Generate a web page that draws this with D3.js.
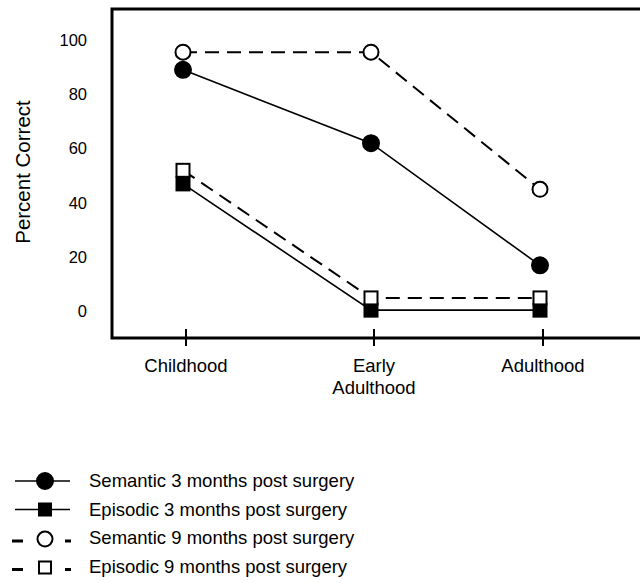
<!DOCTYPE html>
<html lang="en">
<head>
  <meta charset="UTF-8">
  <title>Percent Correct by Life Period</title>
  <style>
    body { margin: 0; background: #fff; }
    svg { display: block; }
    text { font-family: "Liberation Sans", Arial, sans-serif; fill: #000; }
  </style>
</head>
<body>
  <svg width="640" height="583"></svg>
  <script src="https://d3js.org/d3.v7.min.js"></script>
  <script>
  // data
  const periods = ["Childhood", "Early Adulthood", "Adulthood"];
  const periodLabels = [["Childhood"], ["Early", "Adulthood"], ["Adulthood"]];
  const yTicks = [0, 20, 40, 60, 80, 100];

  const semantic3 = [89, 62, 17];
  const episodic3 = [47, 0.5, 0.5];
  const semantic9 = [95.5, 95.5, 45];
  const episodic9 = [52, 5, 5];

  const seriesNames = [
    "Semantic 3 months post surgery",
    "Episodic 3 months post surgery",
    "Semantic 9 months post surgery",
    "Episodic 9 months post surgery"
  ];

  const series = [
    { name: seriesNames[0], values: semantic3, shape: "circle", filled: true,  dashed: false },
    { name: seriesNames[1], values: episodic3, shape: "square", filled: true,  dashed: false },
    { name: seriesNames[2], values: semantic9, shape: "circle", filled: false, dashed: true },
    { name: seriesNames[3], values: episodic9, shape: "square", filled: false, dashed: true }
  ];

  const svg = d3.select("svg");

  // frame of the plot (right edge runs off the page)
  const frame = { left: 112, top: 9, right: 660, bottom: 338 };

  const x = d3.scaleOrdinal().domain(periods).range([183, 371, 540]);
  const y = d3.scaleLinear().domain([0, 100]).range([311.5, 40]);

  svg.append("rect")
    .attr("x", frame.left).attr("y", frame.top)
    .attr("width", frame.right - frame.left)
    .attr("height", frame.bottom - frame.top)
    .attr("fill", "none").attr("stroke", "#000").attr("stroke-width", 3);

  // y labels (no tick marks in the original)
  svg.append("g").selectAll("text")
    .data(yTicks)
    .join("text")
    .attr("x", 87)
    .attr("y", d => y(d))
    .attr("dy", "0.35em")
    .attr("text-anchor", "end")
    .style("font-size", "16.5px")
    .text(d => d);

  svg.append("text")
    .attr("transform", "translate(30,172) rotate(-90)")
    .attr("text-anchor", "middle")
    .style("font-size", "20.5px")
    .text("Percent Correct");

  // x ticks below the frame
  const xg = svg.append("g");
  xg.selectAll("line")
    .data(periods)
    .join("line")
    .attr("x1", d => x(d) + 3).attr("x2", d => x(d) + 3)
    .attr("y1", frame.bottom - 9).attr("y2", frame.bottom + 8)
    .attr("stroke", "#000").attr("stroke-width", 2);

  xg.selectAll("text")
    .data(periods)
    .join("text")
    .attr("x", d => x(d) + 3)
    .attr("y", 372)
    .attr("text-anchor", "middle")
    .style("font-size", "18.5px")
    .each(function(d, i) {
      d3.select(this).selectAll("tspan")
        .data(periodLabels[i])
        .join("tspan")
        .attr("x", x(d) + 3)
        .attr("dy", (t, j) => j === 0 ? 0 : "1.2em")
        .text(t => t);
    });

  // lines
  const line = d3.line()
    .x((v, i) => x(periods[i]))
    .y(v => y(v));

  svg.append("g").selectAll("path")
    .data(series)
    .join("path")
    .attr("d", d => line(d.values))
    .attr("fill", "none")
    .attr("stroke", "#000")
    .attr("stroke-width", d => d.dashed ? 2 : 1.6)
    .attr("stroke-dasharray", d => d.dashed ? "14,8" : null);

  function drawMarker(g, shape, filled, cx, cy, size) {
    if (shape === "circle") {
      g.append("circle")
        .attr("cx", cx).attr("cy", cy)
        .attr("r", filled ? 8 : 7.5)
        .attr("fill", filled ? "#000" : "#fff")
        .attr("stroke", "#000").attr("stroke-width", 2);
    } else {
      g.append("rect")
        .attr("x", cx - size / 2).attr("y", cy - size / 2)
        .attr("width", size).attr("height", size)
        .attr("fill", filled ? "#000" : "#fff")
        .attr("stroke", "#000").attr("stroke-width", 2);
    }
  }

  const markers = svg.append("g");
  series.forEach(s => {
    s.values.forEach((v, i) => {
      drawMarker(markers, s.shape, s.filled, x(periods[i]), y(v), 13);
    });
  });

  // legend
  const legend = svg.append("g");
  series.forEach((s, i) => {
    const cy = 481 + i * 28.5;
    if (s.dashed) {
      legend.append("line")
        .attr("x1", 12).attr("x2", 71).attr("y1", cy + 3).attr("y2", cy + 3)
        .attr("stroke", "#000").attr("stroke-width", 3)
        .attr("stroke-dasharray", "11,42,6");
    } else {
      legend.append("line")
        .attr("x1", 15).attr("x2", 70).attr("y1", cy).attr("y2", cy)
        .attr("stroke", "#000").attr("stroke-width", 1.6);
    }
    drawMarker(legend, s.shape, s.filled, 45, s.dashed ? cy + 1 : cy, 12);
    legend.append("text")
      .attr("x", 89).attr("y", cy)
      .attr("dy", "0.35em")
      .style("font-size", "18.5px")
      .text(s.name);
  });
  </script>
</body>
</html>
